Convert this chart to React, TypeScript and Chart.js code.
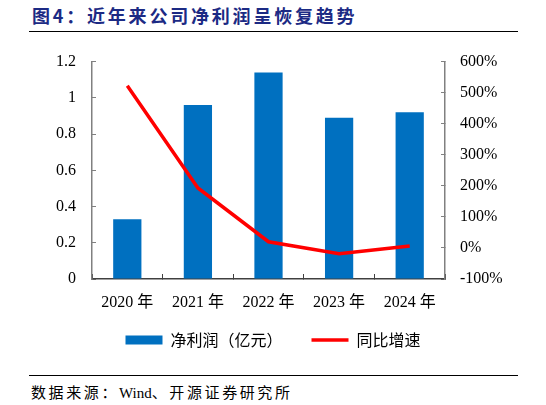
import { useEffect, useRef } from "react"
import { Chart, registerables } from "chart.js"

Chart.register(...registerables)

// data
const years = ["2020 年", "2021 年", "2022 年", "2023 年", "2024 年"]
const netProfit = [0.33, 0.96, 1.14, 0.89, 0.92]
const yoyGrowth = [522, 193, 20, -19, 6]
const leftTicks = ["0", "0.2", "0.4", "0.6", "0.8", "1", "1.2"]
const rightTicks = ["-100%", "0%", "100%", "200%", "300%", "400%", "500%", "600%"]
const seriesNames = ["净利润（亿元）", "同比增速"]

const BAR_COLOR = "#0070C0"
const LINE_COLOR = "#FF0000"
const AXIS_COLOR = "#808080"
const SERIF = "'Liberation Serif', 'Noto Sans CJK SC', serif"
const CJK = "'Noto Sans CJK SC', sans-serif"

function ProfitChart() {
  const chartRef = useRef<HTMLCanvasElement>(null)
  const chartInstance = useRef<Chart | null>(null)

  useEffect(() => {
    if (!chartRef.current) return
    if (chartInstance.current) chartInstance.current.destroy()
    const ctx = chartRef.current.getContext("2d")
    if (!ctx) return

    chartInstance.current = new Chart(ctx, {
      type: "bar",
      data: {
        labels: years,
        datasets: [
          {
            type: "bar",
            label: seriesNames[0],
            data: netProfit,
            backgroundColor: BAR_COLOR,
            barPercentage: 0.4,
            categoryPercentage: 1,
            yAxisID: "y",
            order: 1,
          },
          {
            type: "line",
            label: seriesNames[1],
            data: yoyGrowth,
            borderColor: LINE_COLOR,
            backgroundColor: LINE_COLOR,
            borderWidth: 3.5,
            pointRadius: 0,
            tension: 0,
            yAxisID: "y1",
            order: 0,
          },
        ],
      },
      options: {
        responsive: true,
        maintainAspectRatio: false,
        animation: false,
        // the y tick padding already reserves ~28px on top
        layout: { padding: { top: 0, bottom: 2, left: 0, right: 0 } },
        plugins: {
          tooltip: { enabled: false },
          legend: {
            position: "bottom",
            labels: {
              usePointStyle: true,
              pointStyleWidth: 37,
              boxHeight: 9,
              padding: 13,
              color: "#000",
              font: { family: CJK, size: 16 },
              // first item gets a trailing em space so the gap between items is wider
              generateLabels: (chart) =>
                chart.data.datasets.map((ds, i) => ({
                  text: (ds.label as string) + (i === 0 ? "\u2003" : ""),
                  fillStyle: i === 0 ? BAR_COLOR : LINE_COLOR,
                  strokeStyle: i === 0 ? BAR_COLOR : LINE_COLOR,
                  lineWidth: i === 0 ? 0 : 3.5,
                  pointStyle: i === 0 ? "rect" : "line",
                  hidden: false,
                  datasetIndex: i,
                  fontColor: "#000",
                })),
            },
          },
        },
        scales: {
          x: {
            grid: {
              display: true,
              drawOnChartArea: false,
              drawTicks: true,
              tickLength: -5,
              color: "#404040",
              offset: true,
            },
            border: { display: true, color: "#404040", width: 1.5 },
            ticks: { color: "#000", padding: 19, font: { family: SERIF, size: 16 } },
            afterFit: (scale) => {
              scale.height = 40
            },
          },
          y: {
            position: "left",
            min: 0,
            max: 1.2,
            grid: {
              display: true,
              drawOnChartArea: false,
              drawTicks: true,
              tickLength: -4,
              color: AXIS_COLOR,
            },
            border: { display: true, color: AXIS_COLOR, width: 1.5 },
            ticks: {
              stepSize: 0.2,
              color: "#000",
              padding: 20,
              font: { family: SERIF, size: 16 },
              callback: (_v, i) => leftTicks[i],
            },
            afterFit: (scale) => {
              scale.width = 92
            },
          },
          y1: {
            position: "right",
            min: -100,
            max: 600,
            grid: {
              display: true,
              drawOnChartArea: false,
              drawTicks: true,
              tickLength: -4,
              color: AXIS_COLOR,
            },
            border: { display: true, color: AXIS_COLOR, width: 1.5 },
            ticks: {
              stepSize: 100,
              color: "#000",
              padding: 19,
              font: { family: SERIF, size: 16 },
              callback: (_v, i) => rightTicks[i],
            },
            afterFit: (scale) => {
              scale.width = 101
            },
          },
        },
      },
    })

    return () => {
      if (chartInstance.current) {
        chartInstance.current.destroy()
        chartInstance.current = null
      }
    }
  }, [])

  return (
    <div style={{ position: "absolute", left: 0, top: 32, width: 546, height: 328 }}>
      <canvas ref={chartRef} aria-label="近年来公司净利润呈恢复趋势"></canvas>
    </div>
  )
}

export default function App() {
  return (
    <div
      style={{
        position: "fixed",
        left: 0,
        top: 0,
        width: 546,
        height: 405,
        background: "#fff",
        overflow: "hidden",
      }}
    >
      <div
        style={{
          position: "absolute",
          left: 32,
          top: 5,
          lineHeight: "20px",
          fontFamily: CJK,
          fontWeight: 700,
          fontSize: 18,
          letterSpacing: 2.8,
          color: "#1C2A84",
          whiteSpace: "nowrap",
        }}
      >
        图4：近年来公司净利润呈恢复趋势
      </div>
      <div style={{ position: "absolute", left: 29, top: 31, width: 489, height: 1, background: "#000" }} />
      <ProfitChart />
      <div style={{ position: "absolute", left: 29, top: 375, width: 489, height: 1, background: "#000" }} />
      <div
        style={{
          position: "absolute",
          left: 31,
          top: 382,
          lineHeight: "20px",
          fontFamily: CJK,
          fontSize: 15,
          letterSpacing: 2.6,
          color: "#000",
          whiteSpace: "nowrap",
        }}
      >
        数据来源：<span style={{ fontFamily: SERIF, letterSpacing: 0 }}>Wind</span>、开源证券研究所
      </div>
    </div>
  )
}
